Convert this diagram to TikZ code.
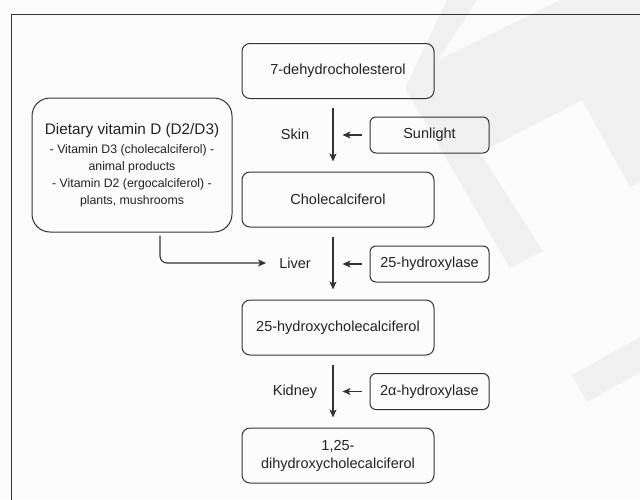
\documentclass[tikz,border=0pt]{standalone}
\usepackage{fontspec}
\setmainfont{Liberation Sans}
\usetikzlibrary{arrows.meta}
\definecolor{ln}{HTML}{333333}
\definecolor{tx}{HTML}{222222}
\definecolor{bg}{HTML}{FCFCFC}
\definecolor{wm}{HTML}{F0F0F0}
\begin{document}
\begin{tikzpicture}[x=1pt,y=-1pt,
  mainbox/.style={draw=ln, line width=1pt, rounded corners=8pt, minimum width=192pt, minimum height=55pt, align=center, text=tx, font=\fontsize{14.5}{18}\selectfont},
  sidebox/.style={draw=ln, line width=1pt, rounded corners=6pt, minimum width=119pt, minimum height=36pt, text=tx, font=\fontsize{14.5}{18}\selectfont},
  dietbox/.style={draw=ln, line width=1pt, rounded corners=18pt, minimum width=200pt, minimum height=134pt, align=center, text=tx, font=\fontsize{12.3}{16.8}\selectfont},
  lbl/.style={text=tx, font=\fontsize{14.5}{18}\selectfont, inner sep=0pt},
  arr/.style={draw=ln, line width=1.1pt, -{Stealth[length=8pt,width=7pt,inset=2pt]}}]
\path[fill=bg] (0,0) rectangle (640,499);
\useasboundingbox (0,0) rectangle (640,499);
\begin{scope}
\clip (0,0) rectangle (640,499);
\fill[wm] (447,0) -- (405,88) -- (510,268) -- (543,251) -- (480,153) -- (582,100) -- (630,187) -- (680,163) -- (680,-10) -- (580,-10) -- (438,60) -- (477,0) -- cycle;
\fill[wm] (572,375) -- (587,402) -- (718,329) -- (703,302) -- cycle;
\end{scope}
\draw[ln, line width=1pt] (11,510) -- (11,14) -- (650,14);

\node[mainbox] (n1) at (338,71) {7-dehydrocholesterol};
\node[mainbox] (n2) at (338,199.5) {Cholecalciferol};
\node[mainbox] (n3) at (338,327.5) {25-hydroxycholecalciferol};
\node[mainbox] (n4) at (338,455.5) {1,25-\\dihydroxycholecalciferol};
\node[sidebox] (s1) at (429.5,135) {Sunlight};
\node[sidebox] (s2) at (429.5,264) {25-hydroxylase};
\node[sidebox] (s3) at (429.5,391.5) {2α-hydroxylase};
\node[lbl] (skin) at (295,134) {Skin};
\node[lbl] (liver) at (295,263) {Liver};
\node[lbl] (kidney) at (295,392) {Kidney};
\node[dietbox] (diet) at (132,165) {{\fontsize{15.3}{18}\selectfont Dietary vitamin D (D2/D3)}\\[3pt]
- Vitamin D3 (cholecalciferol) -\\ animal products\\ - Vitamin D2 (ergocalciferol) -\\ plants, mushrooms};

\draw[arr] ([xshift=-5pt,yshift=-9pt]n1.south) -- ([xshift=-5pt,yshift=10pt]n2.north);
\draw[arr] ([xshift=-5pt,yshift=-9pt]n2.south) -- ([xshift=-5pt,yshift=10pt]n3.north);
\draw[arr] ([xshift=-5pt,yshift=-9pt]n3.south) -- ([xshift=-5pt,yshift=10pt]n4.north);
\draw[arr] ([xshift=-8pt]s1.west) -- ([xshift=-27pt]s1.west);
\draw[arr] ([xshift=-8pt]s2.west) -- ([xshift=-27pt]s2.west);
\draw[arr] ([xshift=-8pt]s3.west) -- ([xshift=-27pt]s3.west);
\draw[arr, rounded corners=7pt] ([xshift=28pt,yshift=-3pt]diet.south) |- ([xshift=-13pt]liver.west);
\end{tikzpicture}
\end{document}
